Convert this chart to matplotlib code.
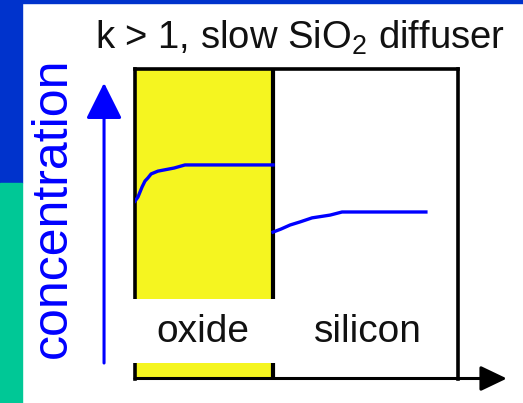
import matplotlib.pyplot as plt
from matplotlib.patches import Rectangle

plt.rcParams['font.family'] = ['Liberation Sans', 'DejaVu Sans']
plt.rcParams['mathtext.default'] = 'regular'

# Depth (fraction of the drawn window) and relative concentration
oxide_edge = 0.428
oxide_depth = [0.0, 0.009, 0.022, 0.031, 0.040, 0.050, 0.071, 0.121, 0.155, 0.428]
oxide_conc = [0.573, 0.586, 0.619, 0.638, 0.648, 0.661, 0.670, 0.680, 0.690, 0.690]
silicon_depth = [0.428, 0.453, 0.481, 0.512, 0.549, 0.605, 0.642, 0.902]
silicon_conc = [0.473, 0.483, 0.496, 0.506, 0.519, 0.528, 0.538, 0.538]
region_labels = ['oxide', 'silicon']
region_centers = [0.212, 0.721]
title = 'k > 1, slow SiO$_2$ diffuser'
ylabel = 'concentration'

W, H = 523, 403
fig = plt.figure(figsize=(W / 100, H / 100), dpi=100)
fig.patch.set_facecolor('white')

# slide-style colour strips along the left and top edges
fig.patches.append(Rectangle((0, 220 / H), 22 / W, 1, transform=fig.transFigure,
                             color='#0033cc', zorder=0))
fig.patches.append(Rectangle((0, 0), 22 / W, 220 / H, transform=fig.transFigure,
                             color='#00c896', zorder=0))
fig.patches.append(Rectangle((0, 1 - 3 / H), 1, 3 / H, transform=fig.transFigure,
                             color='#0033cc', zorder=0))

ax = fig.add_axes([135 / W, (H - 378.5) / H, 322.5 / W, 309.5 / H])
ax.set_xlim(0, 1)
ax.set_ylim(0, 1)
ax.set_xticks([])
ax.set_yticks([])
ax.patch.set_alpha(0)
for side in ['left', 'top', 'right']:
    ax.spines[side].set_linewidth(2.6)
ax.spines['bottom'].set_visible(False)

ax.axvspan(0, oxide_edge, color='#f5f520', zorder=0)
ax.axvline(oxide_edge, color='black', lw=3.0, zorder=2)

# white label strip across the oxide
ax.add_patch(Rectangle((-0.012, 0.050), 0.449, 0.207, facecolor='white',
                       edgecolor='none', zorder=3, clip_on=False))

ax.plot(oxide_depth, oxide_conc, color='#0000ff', lw=2.4, zorder=4)
ax.plot(silicon_depth, silicon_conc, color='#0000ff', lw=2.4, zorder=4)

for lab, xc in zip(region_labels, region_centers):
    ax.text(xc, 0.118, lab, ha='center', va='baseline', fontsize=28,
            color='#111111', zorder=5)

# depth axis arrow
ax.annotate('', xy=(1.153, 0), xytext=(0, 0), xycoords='axes fraction',
            annotation_clip=False,
            arrowprops=dict(arrowstyle='-|>,head_length=1.15,head_width=0.55',
                            mutation_scale=14, lw=2.2, color='black',
                            shrinkA=0, shrinkB=0))
# concentration axis arrow
ax.annotate('', xy=(-0.096, 0.955), xytext=(-0.096, 0.050), xycoords='axes fraction',
            annotation_clip=False,
            arrowprops=dict(arrowstyle='-|>,head_length=1.6,head_width=0.8',
                            mutation_scale=14, lw=2.2, color='#0000ff',
                            shrinkA=0, shrinkB=0))

fig.text(95 / W, (H - 49) / H, title, ha='left', va='baseline', fontsize=27.5,
         color='#111111')
fig.text(66 / W, (H - 208) / H, ylabel, rotation=90, rotation_mode='anchor',
         ha='center', va='baseline', fontsize=36, color='#0000ff')

fig.savefig('out.png', dpi=100)
